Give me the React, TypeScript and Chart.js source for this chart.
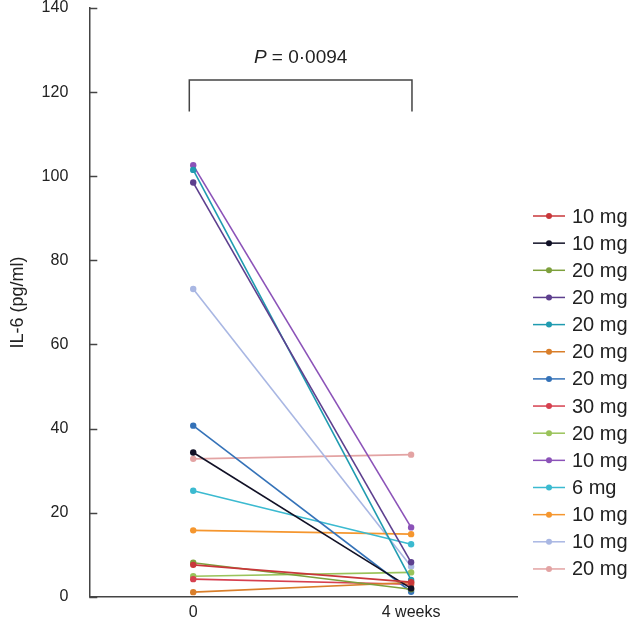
import React, { useEffect, useRef } from 'react';
import { Chart, registerables } from 'chart.js';

Chart.register(...registerables);

// ---- Data ----
const timePoints = [0, 1];
const timeLabels = ['0', '4 weeks'];
const doseLabels = ['10 mg', '10 mg', '20 mg', '20 mg', '20 mg', '20 mg', '20 mg', '30 mg', '20 mg', '10 mg', '6 mg', '10 mg', '10 mg', '20 mg'];
const baselineValues = [7.6, 34.3, 8.1, 98.5, 101.5, 1.1, 40.7, 4.2, 4.9, 102.6, 25.2, 15.8, 73.2, 32.8];
const week4Values = [3.5, 2.0, 1.8, 8.2, 4.0, 3.4, 1.2, 3.0, 5.8, 16.5, 12.5, 14.9, 7.2, 33.8];
const seriesColors = [
  '#c8373a', '#111126', '#7da03c', '#5d3f8e', '#1f9bb0', '#d97e2a', '#3472b8',
  '#d6404f', '#9ac35a', '#8b52b8', '#3bbad0', '#f5962e', '#a9b7e3', '#e3a3a3',
];
const yTickValues = [0, 20, 40, 60, 80, 100, 120, 140];
const pItalic = 'P';
const pRest = ' = 0·0094';
const bracketTop = 122.9;
const bracketBottom = 115.4;
const pTextValue = 128.1;

const FONT = '"Liberation Sans", Arial, Helvetica, sans-serif';
const AXIS_COLOR = '#444444';
const TEXT_COLOR = '#222222';

const extrasPlugin = {
  id: 'extras',
  afterDraw(chart: any) {
    const ctx = chart.ctx;
    const x = chart.scales.x;
    const y = chart.scales.y;
    ctx.save();
    // inward y ticks
    ctx.strokeStyle = AXIS_COLOR;
    ctx.lineWidth = 1.5;
    yTickValues.forEach((v) => {
      const py = Math.round(y.getPixelForValue(v)) + 0.5;
      ctx.beginPath();
      ctx.moveTo(x.left, py);
      ctx.lineTo(x.left + 8, py);
      ctx.stroke();
    });
    // bracket
    const bx0 = x.getPixelForValue(-0.018);
    const bx1 = x.getPixelForValue(1.004);
    const byTop = y.getPixelForValue(bracketTop);
    const byBot = y.getPixelForValue(bracketBottom);
    ctx.lineWidth = 1.5;
    ctx.beginPath();
    ctx.moveTo(bx0, byBot);
    ctx.lineTo(bx0, byTop);
    ctx.lineTo(bx1, byTop);
    ctx.lineTo(bx1, byBot);
    ctx.stroke();
    // P text
    ctx.fillStyle = TEXT_COLOR;
    ctx.textBaseline = 'middle';
    ctx.textAlign = 'left';
    ctx.font = `italic 19px ${FONT}`;
    const w1 = ctx.measureText(pItalic).width;
    ctx.font = `19px ${FONT}`;
    const w2 = ctx.measureText(pRest).width;
    const cx = (bx0 + bx1) / 2;
    const ty = y.getPixelForValue(pTextValue);
    const sx = cx - (w1 + w2) / 2;
    ctx.font = `italic 19px ${FONT}`;
    ctx.fillText(pItalic, sx, ty);
    ctx.font = `19px ${FONT}`;
    ctx.fillText(pRest, sx + w1, ty);
    // legend
    const legX = 533;
    const legTop = 216;
    const legStep = 27.15;
    chart.data.datasets.forEach((ds: any, i: number) => {
      const ly = legTop + i * legStep;
      ctx.strokeStyle = ds.borderColor;
      ctx.fillStyle = ds.borderColor;
      ctx.lineWidth = 1.5;
      ctx.beginPath();
      ctx.moveTo(legX, ly);
      ctx.lineTo(legX + 32, ly);
      ctx.stroke();
      ctx.beginPath();
      ctx.arc(legX + 16, ly, 3, 0, Math.PI * 2);
      ctx.fill();
      ctx.fillStyle = TEXT_COLOR;
      ctx.font = `20px ${FONT}`;
      ctx.textBaseline = 'middle';
      ctx.fillText(ds.label, legX + 39, ly + 1);
    });
    ctx.restore();
  },
};

export default function App() {
  const canvasRef = useRef<HTMLCanvasElement | null>(null);

  useEffect(() => {
    if (!canvasRef.current) return;
    const datasets = doseLabels.map((label, i) => ({
      label,
      data: [
        { x: timePoints[0], y: baselineValues[i] },
        { x: timePoints[1], y: week4Values[i] },
      ],
      borderColor: seriesColors[i],
      backgroundColor: seriesColors[i],
      borderWidth: 1.6,
      pointRadius: 3.2,
      pointBorderWidth: 0,
      pointHoverRadius: 3.2,
    }));
    const chart = new Chart(canvasRef.current, {
      type: 'line',
      data: { datasets },
      plugins: [extrasPlugin],
      options: {
        animation: false,
        responsive: true,
        maintainAspectRatio: false,
        layout: { padding: { left: 3, right: 117, top: 0, bottom: 10 } },
        plugins: {
          legend: { display: false },
          tooltip: { enabled: false },
        },
        scales: {
          x: {
            type: 'linear',
            min: -0.477,
            max: 1.486,
            afterBuildTicks: (scale: any) => {
              scale.ticks = timePoints.map((v) => ({ value: v }));
            },
            ticks: {
              autoSkip: false,
              maxRotation: 0,
              padding: 0,
              color: TEXT_COLOR,
              font: { family: FONT, size: 16 },
              callback: (v: any) => timeLabels[timePoints.indexOf(Number(v))] ?? '',
            },
            grid: { display: true, drawOnChartArea: false, drawTicks: true, tickLength: 6, tickColor: 'rgba(0,0,0,0)' },
            border: { display: true, color: AXIS_COLOR, width: 1.5 },
          },
          y: {
            type: 'linear',
            min: 0,
            max: 140,
            afterBuildTicks: (scale: any) => {
              scale.ticks = yTickValues.map((v) => ({ value: v }));
            },
            ticks: {
              padding: 0,
              color: TEXT_COLOR,
              font: { family: FONT, size: 16, lineHeight: 1 },
            },
            grid: { display: true, drawOnChartArea: false, drawTicks: true, tickLength: 21, tickColor: 'rgba(0,0,0,0)' },
            border: { display: true, color: AXIS_COLOR, width: 1.5 },
            title: {
              display: true,
              text: 'IL-6 (pg/ml)',
              color: TEXT_COLOR,
              font: { family: FONT, size: 18 },
              padding: { top: 4, bottom: 13 },
            },
          },
        },
      },
    });
    return () => chart.destroy();
  }, []);

  return (
    <div style={{ position: 'absolute', left: 0, top: 0, width: 634, height: 632, background: '#fff' }}>
      <canvas ref={canvasRef} />
    </div>
  );
}
